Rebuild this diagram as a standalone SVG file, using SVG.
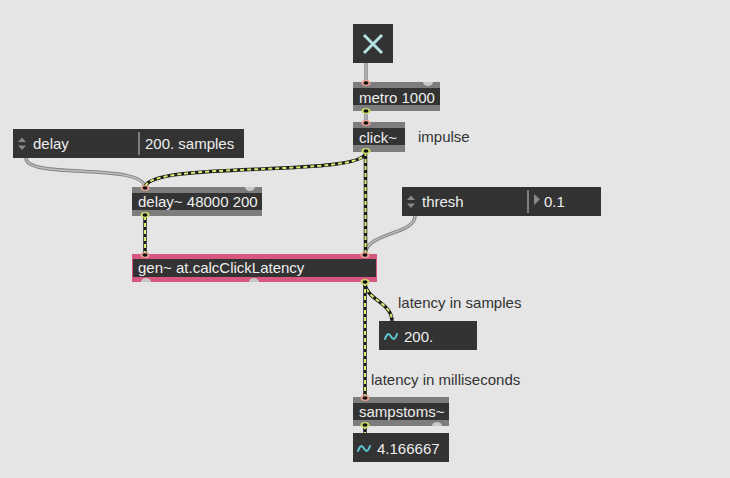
<svg xmlns="http://www.w3.org/2000/svg" width="730" height="478" viewBox="0 0 730 478">
<style>
.t{font-family:"Liberation Sans",Arial,sans-serif;font-size:15px;fill:#eeeeee}
.c{font-family:"Liberation Sans",Arial,sans-serif;font-size:15px;fill:#333333}
.bar{fill:#7d7d7d}
.body{fill:#333333}
.sigb{fill:none;stroke:#1a1a1a;stroke-width:3.5}
.sigd{fill:none;stroke:#d4f070;stroke-width:2;stroke-dasharray:4 3}
.ctlb{fill:none;stroke:#858585;stroke-width:3.5}
.ctli{fill:none;stroke:#bdbdbd;stroke-width:1.5}
.inl{fill:#e8a094}
.outl{fill:#cfdc6a}
.hole{fill:#111111}
.free{fill:#c8c8c8}
.arr{fill:#8a8a8a}
.wave{fill:none;stroke:#5ec6d4;stroke-width:2;stroke-linecap:round}
.div{stroke:#9a9a9a;stroke-width:1.5}
</style>
<rect width="730" height="478" fill="#e5e5e5"/>

<g id="connectors">
  <path class="ctlb" d="M366,63 L366,83"/><path class="ctli" d="M366,63 L366,83"/>
  <path class="ctlb" d="M366,111 L366,122"/><path class="ctli" d="M366,111 L366,122"/>
  <path class="ctlb" d="M26,158 C26,180 145,162 145,188"/><path class="ctli" d="M26,158 C26,180 145,162 145,188"/>
  <path class="ctlb" d="M415,216 C415,235 365,232 365,255"/><path class="ctli" d="M415,216 C415,235 365,232 365,255"/>
  <path class="sigb" d="M366,152 C366,178 145,160 145,188"/><path class="sigd" d="M366,152 C366,178 145,160 145,188"/>
  <path class="sigb" d="M365.5,152 L365.5,255"/><path class="sigd" d="M365.5,152 L365.5,255"/>
  <path class="sigb" d="M145,216 L145,255"/><path class="sigd" d="M145,216 L145,255"/>
  <path class="sigb" d="M365,282 C365,300 392,302 392,321"/><path class="sigd" d="M365,282 C365,300 392,302 392,321"/>
  <path class="sigb" d="M365,282 L365,397"/><path class="sigd" d="M365,282 L365,397"/>
  <path class="sigb" d="M365,425 L365,433"/><path class="sigd" d="M365,425 L365,433"/>
</g>

<g id="toggle">
  <rect x="353" y="24" width="40" height="39" class="body"/>
  <path d="M364,35 L382,53 M382,35 L364,53" stroke="#b4e2e2" stroke-width="3" stroke-linecap="butt"/>
</g>

<g id="metro">
  <rect x="353" y="82" width="87" height="29" class="bar"/>
  <rect x="353" y="88" width="87" height="17" class="body"/>
  <text x="359" y="103" class="t">metro 1000</text>
  <ellipse cx="366" cy="83" rx="4.5" ry="3" class="inl"/><ellipse cx="366" cy="83" rx="2.5" ry="1.8" class="hole"/>
  <path d="M423,82 A5,4 0 0 0 433,82 Z" class="free"/>
  <ellipse cx="366" cy="111" rx="4.5" ry="3" class="outl"/><ellipse cx="366" cy="111" rx="2.5" ry="1.8" class="hole"/>
</g>

<g id="click">
  <rect x="353" y="122" width="52" height="30" class="bar"/>
  <rect x="353" y="128" width="52" height="17" class="body"/>
  <text x="359" y="143" class="t">click~</text>
  <ellipse cx="366" cy="123" rx="4.5" ry="3" class="inl"/><ellipse cx="366" cy="123" rx="2.5" ry="1.8" class="hole"/>
  <ellipse cx="366" cy="151" rx="4.5" ry="3" class="outl"/><ellipse cx="366" cy="151" rx="2.5" ry="1.8" class="hole"/>
</g>

<g id="impulse-comment">
  <text x="418" y="142" class="c">impulse</text>
</g>

<g id="delay-menu">
  <rect x="13" y="129" width="231" height="29" class="body"/>
  <path d="M18,142 L22,137.5 L26,142 Z" class="arr"/>
  <path d="M18,145.5 L26,145.5 L22,150 Z" class="arr"/>
  <text x="33" y="149" class="t">delay</text>
  <line x1="139" y1="132" x2="139" y2="155" class="div"/>
  <text x="145" y="149" class="t">200. samples</text>
</g>

<g id="delay-obj">
  <rect x="132" y="187" width="130" height="29" class="bar"/>
  <rect x="132" y="193" width="130" height="17" class="body"/>
  <text x="138" y="207" class="t">delay~ 48000 200</text>
  <ellipse cx="145" cy="188" rx="4.5" ry="3" class="inl"/><ellipse cx="145" cy="188" rx="2.5" ry="1.8" class="hole"/>
  <path d="M245,187 A5,4 0 0 0 255,187 Z" class="free"/>
  <ellipse cx="145" cy="215" rx="4.5" ry="3" class="outl"/><ellipse cx="145" cy="215" rx="2.5" ry="1.8" class="hole"/>
</g>

<g id="thresh">
  <rect x="402" y="187" width="199" height="29" class="body"/>
  <path d="M407,200 L411,195.5 L415,200 Z" class="arr"/>
  <path d="M407,203.5 L415,203.5 L411,208 Z" class="arr"/>
  <text x="422" y="207" class="t">thresh</text>
  <line x1="528" y1="190" x2="528" y2="213" class="div"/>
  <path d="M534,194 L540,199.5 L534,205 Z" class="arr"/>
  <text x="544" y="207" class="t">0.1</text>
</g>

<g id="gen">
  <rect x="132" y="254" width="245" height="28" fill="#d7587f"/>
  <rect x="133" y="259" width="243" height="18" class="body"/>
  <text x="138" y="273" class="t">gen~ at.calcClickLatency</text>
  <ellipse cx="145" cy="255" rx="4.5" ry="3" class="inl"/><ellipse cx="145" cy="255" rx="2.5" ry="1.8" class="hole"/>
  <ellipse cx="365" cy="255" rx="4.5" ry="3" class="inl"/><ellipse cx="365" cy="255" rx="2.5" ry="1.8" class="hole"/>
  <path d="M141,282 A5,4 0 0 1 151,282 Z" class="free"/>
  <path d="M249,282 A5,4 0 0 1 259,282 Z" class="free"/>
  <ellipse cx="365" cy="282" rx="4.5" ry="3" class="outl"/><ellipse cx="365" cy="282" rx="2.5" ry="1.8" class="hole"/>
</g>

<g id="samples-comment">
  <text x="398" y="308" class="c">latency in samples</text>
</g>

<g id="samples-num">
  <rect x="379" y="321" width="98" height="29" class="body"/>
  <path class="wave" d="M385,339 C387,333 389,333 391,336.5 C393,340 395,340 397,334"/>
  <text x="404" y="342" class="t">200.</text>
</g>

<g id="ms-comment">
  <text x="371" y="385" class="c">latency in milliseconds</text>
</g>

<g id="sampstoms">
  <rect x="353" y="397" width="96" height="29" class="bar"/>
  <rect x="353" y="403" width="96" height="17" class="body"/>
  <text x="359" y="417" class="t">sampstoms~</text>
  <ellipse cx="365" cy="398" rx="4.5" ry="3" class="inl"/><ellipse cx="365" cy="398" rx="2.5" ry="1.8" class="hole"/>
  <path d="M432,426 A5,4 0 0 1 442,426 Z" class="free"/>
  <ellipse cx="365" cy="425" rx="4.5" ry="3" class="outl"/><ellipse cx="365" cy="425" rx="2.5" ry="1.8" class="hole"/>
</g>

<g id="ms-num">
  <rect x="353" y="433" width="96" height="29" class="body"/>
  <path class="wave" d="M358,451 C360,445 362,445 364,448.5 C366,452 368,452 370,446"/>
  <text x="377" y="454" class="t">4.166667</text>
</g>
</svg>
